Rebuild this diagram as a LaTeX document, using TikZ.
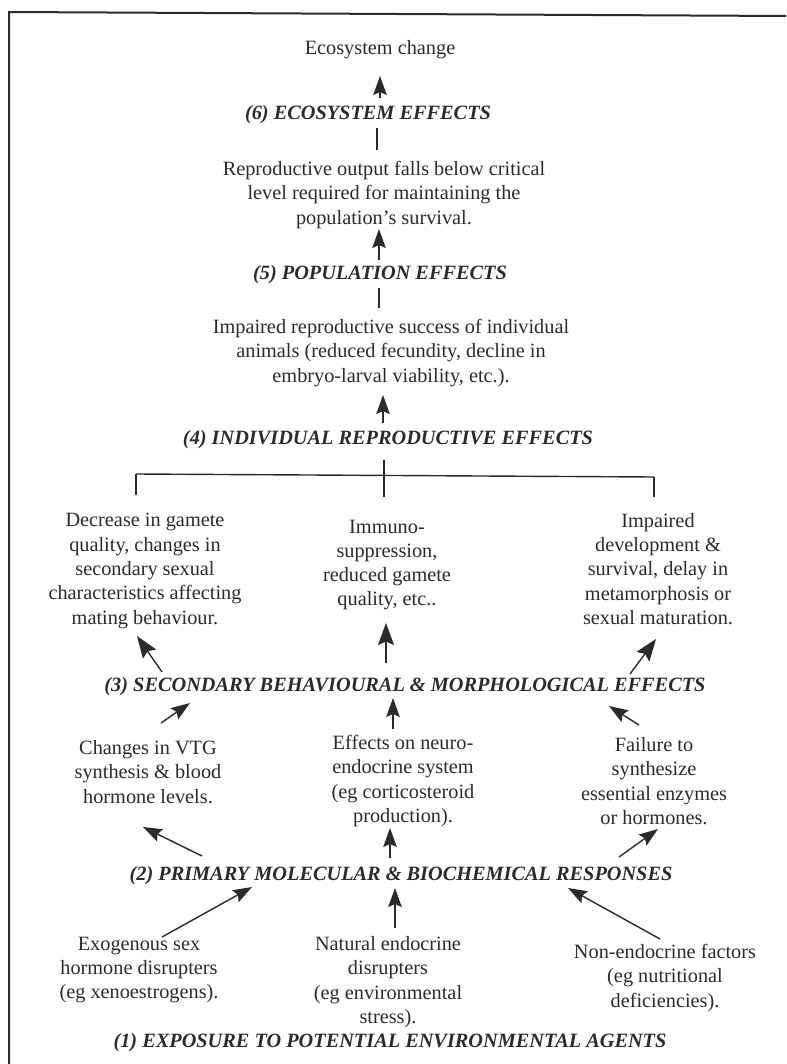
\documentclass[tikz,border=0pt]{standalone}
\usepackage{fontspec}
\setmainfont{Liberation Serif}
\usetikzlibrary{arrows.meta,calc}
\definecolor{ink}{HTML}{2B2B2B}
\tikzset{
  txt/.style={inner sep=0pt, align=center, text=ink, font=\fontsize{20.3}{24.3}\selectfont},
  head/.style={inner sep=0pt, align=center, text=ink, font=\fontsize{20.3}{24.3}\selectfont\bfseries\itshape},
  arr/.style={draw=ink, line width=1.4pt, -{Stealth[length=19pt,width=13.5pt,inset=3pt]}},
  arrbig/.style={draw=ink, line width=1.4pt, -{Stealth[length=22pt,width=16pt,inset=3.5pt]}},
  ln/.style={draw=ink, line width=1.4pt},
  frame/.style={draw=ink, line width=2pt}
}
\begin{document}
\begin{tikzpicture}[x=1pt,y=-1pt]
\useasboundingbox (0,0) rectangle (786,1064);
\draw[frame] (9,1064) -- (9,12) -- (786,16);

\node[txt]  (eco) at (380,50) {Ecosystem change};
\node[head] (h6)  at (368,115) {(6) ECOSYSTEM EFFECTS};
\node[txt]  (b5)  at (384,195) {Reproductive output falls below critical\\level required for maintaining the\\population’s survival.};
\node[head] (h5)  at (380,275) {(5) POPULATION EFFECTS};
\node[txt]  (b4)  at (391,353) {Impaired reproductive success of individual\\animals (reduced fecundity, decline in\\embryo-larval viability, etc.).};
\node[head] (h4)  at (388,440) {(4) INDIVIDUAL REPRODUCTIVE EFFECTS};

\node[txt] (bL) at (145,571) {Decrease in gamete\\quality, changes in\\secondary sexual\\characteristics affecting\\mating behaviour.};
\node[txt] (bC) at (387,565) {Immuno-\\suppression,\\reduced gamete\\quality, etc..};
\node[txt] (bR) at (658,569) {Impaired\\development \&\\survival, delay in\\metamorphosis or\\sexual maturation.};

\node[head] (h3) at (405,687) {(3) SECONDARY BEHAVIOURAL \& MORPHOLOGICAL EFFECTS};

\node[txt] (mL) at (148,772) {Changes in VTG\\synthesis \& blood\\hormone levels.};
\node[txt] (mC) at (403,781) {Effects on neuro-\\endocrine system\\(eg corticosteroid\\production).};
\node[txt] (mR) at (654,781) {Failure to\\synthesize\\essential enzymes\\or hormones.};

\node[head] (h2) at (401,876) {(2) PRIMARY MOLECULAR \& BIOCHEMICAL RESPONSES};

\node[txt] (lL) at (139,970) {Exogenous sex\\hormone disrupters\\(eg xenoestrogens).};
\node[txt] (lC) at (388,982) {Natural endocrine\\disrupters\\(eg environmental\\stress).};
\node[txt] (lR) at (665,978) {Non-endocrine factors\\(eg nutritional\\deficiencies).};

\node[head] (h1) at (390,1043) {(1) EXPOSURE TO POTENTIAL ENVIRONMENTAL AGENTS};

% upper chain
\draw[arr] ($(h6)+(12,-17)$) -- ($(eco)+(0,26)$);
\draw[ln]  ($(h6)+(9,13)$) -- ($(b5)+(-7,-45)$);
\draw[arr] ($(h5)+(-1,-15)$) -- ($(b5)+(-5,34)$);
\draw[ln]  ($(h5)+(-1,13)$) -- ($(b4)+(-12,-45)$);
\draw[arr] ($(h4)+(-5,-17)$) -- ($(b4)+(-8,42)$);

% bracket
\coordinate (brL) at (136,474);
\coordinate (brR) at (654,477);
\draw[ln] ($(h4)+(-4,20)$) -- ++(0,37);
\draw[ln] (brL) -- (brR);
\draw[ln] (brL) -- ++(0,21);
\draw[ln] (brR) -- ++(0,20);

% (3) to top blocks
\draw[arrbig] ($(h3)+(-243,-15)$) -- ($(bL)+(-8,65)$);
\draw[arrbig] ($(h3)+(-19,-24)$) -- ($(bC)+(-1,58)$);
\draw[arrbig] ($(h3)+(225,-13)$) -- ($(bR)+(-2,70)$);

% middle blocks to (3)
\draw[arr] ($(mL)+(13,-49)$) -- ($(h3)+(-215,16)$);
\draw[arr] ($(mC)+(-10,-52)$) -- ($(h3)+(-12,11)$);
\draw[arr] ($(mR)+(-15,-56)$) -- ($(h3)+(204,19)$);

% (2) to middle blocks
\draw[arr] ($(h2)+(-199,-20)$) -- ($(mL)+(-5,55)$);
\draw[arr] ($(h2)+(-11,-18)$) -- ($(mC)+(-13,47)$);
\draw[arr] ($(h2)+(218,-19)$) -- ($(mR)+(4,48)$);

% bottom blocks to (2)
\draw[arr] ($(lL)+(23,-33)$) -- ($(h2)+(-149,11)$);
\draw[arr] ($(lC)+(7,-54)$) -- ($(h2)+(-6,12)$);
\draw[arr] ($(lR)+(-5,-39)$) -- ($(h2)+(167,12)$);
\end{tikzpicture}
\end{document}
